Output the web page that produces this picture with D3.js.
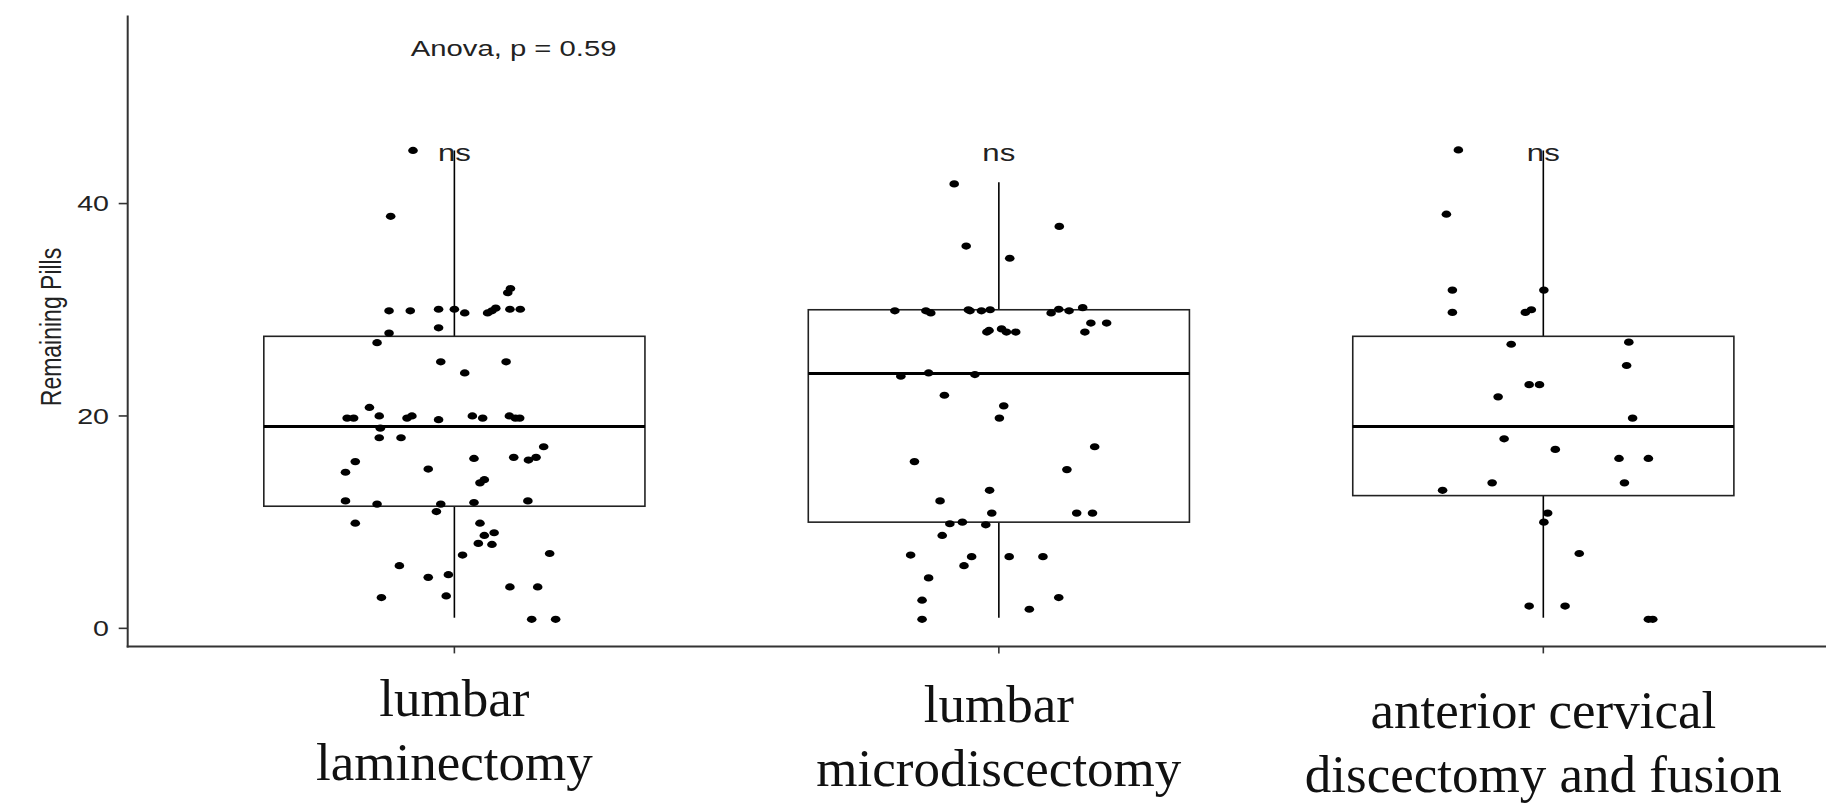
<!DOCTYPE html>
<html>
<head>
<meta charset="utf-8">
<script src="https://cdn.jsdelivr.net/npm/d3@7"></script>
<style>
  html, body { margin: 0; padding: 0; background: #fff; }
  svg { display: block; }
</style>
</head>
<body>
<svg id="chart" width="1826" height="806"></svg>
<script>
// ---------------- DATA ----------------
const categories = ["lumbar laminectomy", "lumbar microdiscectomy", "anterior cervical discectomy and fusion"];
const categoryLines = [["lumbar", "laminectomy"], ["lumbar", "microdiscectomy"], ["anterior cervical", "discectomy and fusion"]];

// box summary: lower whisker, Q1, median, Q3, upper whisker
const whiskerLow = [1, 1, 1];
const q1 = [11.5, 10, 12.5];
const median = [19, 24, 19];
const q3 = [27.5, 30, 27.5];
const whiskerHigh = [45, 42, 45];

// jittered points: values and horizontal jitter (in category-step units)
const g1Values = [45, 38.8, 31.6, 32.0, 29.9, 29.9, 30.05, 30.05, 29.7, 29.7, 29.9, 30.15, 30.05, 30.05, 27.8, 28.3, 26.9, 25.1, 25.1, 24.05,
  20.8, 19.8, 19.8, 20.0, 19.8, 20.0, 19.65, 20.0, 19.8, 20.0, 19.8, 19.8, 18.85, 17.95, 17.95, 17.1, 15.7, 16.0, 16.1, 15.85, 16.1,
  14.7, 15.0, 13.7, 14.0, 12.0, 11.7, 11.7, 11.85, 12.0, 11.0, 9.9, 9.9, 8.75, 9.0, 8.0, 7.9, 6.9, 7.05, 5.9, 4.8, 5.05, 3.9, 3.9,
  2.9, 3.05, 0.85, 0.85];
const g1Jitter = [-0.076, -0.117, 0.098, 0.103, -0.120, -0.081, -0.029, 0.000, 0.019, 0.061, 0.069, 0.076, 0.102, 0.121, -0.120, -0.029, -0.142, -0.025, 0.095, 0.019,
  -0.156, -0.197, -0.185, -0.138, -0.087, -0.078, -0.029, 0.033, 0.052, 0.101, 0.112, 0.120, -0.136, -0.138, -0.098, 0.164, -0.182, 0.036, 0.109, 0.136, 0.150,
  -0.200, -0.048, 0.047, 0.055, -0.200, -0.142, -0.025, 0.036, 0.135, -0.033, -0.182, 0.047, 0.055, 0.073, 0.044, 0.069, 0.015, 0.175, -0.101, -0.048, -0.011, 0.102, 0.153,
  -0.134, -0.015, 0.142, 0.186];

const g2Values = [41.85, 37.85, 36.0, 34.85, 29.9, 29.9, 29.7, 30.0, 29.9, 29.9, 30.0, 29.7, 30.05, 29.9, 30.2, 28.75, 28.75, 27.9, 28.05, 28.2, 27.9, 27.9, 27.9,
  23.75, 24.05, 23.9, 21.95, 20.95, 19.8, 17.1, 15.7, 14.95, 13.0, 12.0, 10.85, 10.85, 10.85, 9.85, 10.0, 9.75, 8.75, 6.9, 6.75, 6.75, 6.75, 5.9, 4.75,
  2.65, 2.9, 1.8, 0.85];
const g2Jitter = [-0.082, 0.111, -0.060, 0.020, -0.191, -0.134, -0.125, -0.056, -0.053, -0.032, -0.016, 0.096, 0.110, 0.129, 0.154, 0.169, 0.198, -0.022, -0.018, 0.005, 0.014, 0.031, 0.158,
  -0.180, -0.129, -0.044, -0.100, 0.009, 0.001, 0.176, -0.155, 0.125, -0.017, -0.108, -0.013, 0.143, 0.172, -0.090, -0.067, -0.024, -0.104, -0.162, -0.050, 0.019, 0.081, -0.064, -0.129,
  -0.141, 0.110, 0.056, -0.141];

const g3Values = [45.05, 39.0, 31.85, 31.85, 29.75, 29.75, 30.0, 26.75, 26.95, 24.75, 22.95, 22.95, 21.8, 19.8, 17.85, 16.85, 16.0, 16.0,
  13.0, 13.7, 13.7, 10.85, 10.0, 7.05, 2.1, 2.1, 0.85, 0.85];
const g3Jitter = [-0.156, -0.178, -0.167, 0.001, -0.167, -0.033, -0.022, -0.059, 0.157, 0.153, -0.026, -0.007, -0.083, 0.164, -0.072, 0.022, 0.139, 0.193,
  -0.185, -0.094, 0.149, 0.008, 0.001, 0.066, -0.026, 0.040, 0.193, 0.201];

const yTicks = [0, 20, 40];
const yTitle = "Remaining Pills";
const anovaLabel = "Anova, p = 0.59";
const anovaPos = { x: 0.92, y: 55 };   // x in category units (1 = first group)
const sigLabels = ["ns", "ns", "ns"];
const sigY = 45;
const yDomain = [-1.7, 57.7];

// ---------------- DRAW ----------------
const svg = d3.select("#chart");
const plotLeft = 127.7, plotRight = 1870, plotTop = 15.6, plotBottom = 646.4;
const sx = 1.3; // horizontal text stretch of the original rendering

const x = d3.scalePoint().domain(categories).range([plotLeft, plotRight]).padding(0.6);
const step = x.step();
const y = d3.scaleLinear().domain(yDomain).range([plotBottom, plotTop]);
const boxW = 0.7 * step;

const groups = [
  { values: g1Values, jitter: g1Jitter },
  { values: g2Values, jitter: g2Jitter },
  { values: g3Values, jitter: g3Jitter }
];

const g = svg.append("g");

// boxes
categories.forEach((c, i) => {
  const cx = x(c);
  g.append("line").attr("x1", cx).attr("x2", cx).attr("y1", y(q3[i])).attr("y2", y(whiskerHigh[i]))
    .attr("stroke", "#000").attr("stroke-width", 1.6);
  g.append("line").attr("x1", cx).attr("x2", cx).attr("y1", y(q1[i])).attr("y2", y(whiskerLow[i]))
    .attr("stroke", "#000").attr("stroke-width", 1.6);
  g.append("rect").attr("x", cx - boxW / 2).attr("y", y(q3[i])).attr("width", boxW).attr("height", y(q1[i]) - y(q3[i]))
    .attr("fill", "#fff").attr("stroke", "#222").attr("stroke-width", 1.6);
  g.append("line").attr("x1", cx - boxW / 2).attr("x2", cx + boxW / 2).attr("y1", y(median[i])).attr("y2", y(median[i]))
    .attr("stroke", "#000").attr("stroke-width", 3);
});

// points
categories.forEach((c, i) => {
  const grp = groups[i];
  g.selectAll(null).data(grp.values).enter().append("ellipse")
    .attr("cx", (d, k) => x(c) + grp.jitter[k] * step)
    .attr("cy", d => y(d))
    .attr("rx", 4.8).attr("ry", 3.6)
    .attr("fill", "#000");
});

// axes
const yAxis = svg.append("g");
yAxis.append("line").attr("x1", plotLeft).attr("x2", plotLeft).attr("y1", plotTop).attr("y2", plotBottom + 1)
  .attr("stroke", "#333").attr("stroke-width", 2);
yTicks.forEach(t => {
  yAxis.append("line").attr("x1", plotLeft - 9).attr("x2", plotLeft).attr("y1", y(t)).attr("y2", y(t))
    .attr("stroke", "#333").attr("stroke-width", 1.6);
  yAxis.append("text").attr("transform", `translate(109,${y(t)}) scale(${sx},1)`)
    .attr("text-anchor", "end").attr("dy", "0.36em")
    .attr("font-family", "Liberation Sans, Arial, sans-serif").attr("font-size", 22).attr("fill", "#222")
    .text(t);
});
svg.append("text").attr("transform", `translate(61,327) scale(${sx},1) rotate(-90)`)
  .attr("text-anchor", "middle")
  .attr("font-family", "Liberation Sans, Arial, sans-serif").attr("font-size", 23).attr("fill", "#222")
  .text(yTitle);

const xAxis = svg.append("g");
xAxis.append("line").attr("x1", plotLeft - 1).attr("x2", 1826).attr("y1", plotBottom).attr("y2", plotBottom)
  .attr("stroke", "#333").attr("stroke-width", 2);
categories.forEach((c, i) => {
  xAxis.append("line").attr("x1", x(c)).attr("x2", x(c)).attr("y1", plotBottom).attr("y2", plotBottom + 7)
    .attr("stroke", "#333").attr("stroke-width", 1.6);
  const t = xAxis.append("text").attr("text-anchor", "middle")
    .attr("font-family", "Liberation Serif, 'Times New Roman', serif").attr("font-size", 53).attr("fill", "#111");
  categoryLines[i].forEach((ln, k) => {
    t.append("tspan").attr("x", x(c)).attr("y", 716 + i * 6 + k * 64).text(ln);
  });
});

// annotations
const xCat = v => x(categories[0]) + (v - 1) * step;
svg.append("text").attr("transform", `translate(${xCat(anovaPos.x)},${y(anovaPos.y) + 12}) scale(${sx},1)`)
  .attr("font-family", "Liberation Sans, Arial, sans-serif").attr("font-size", 22.5).attr("fill", "#222")
  .text(anovaLabel);
categories.forEach((c, i) => {
  svg.append("text").attr("transform", `translate(${x(c)},${y(sigY) + 11}) scale(${sx},1)`)
    .attr("text-anchor", "middle")
    .attr("font-family", "Liberation Sans, Arial, sans-serif").attr("font-size", 24).attr("fill", "#222")
    .text(sigLabels[i]);
});
</script>
</body>
</html>
